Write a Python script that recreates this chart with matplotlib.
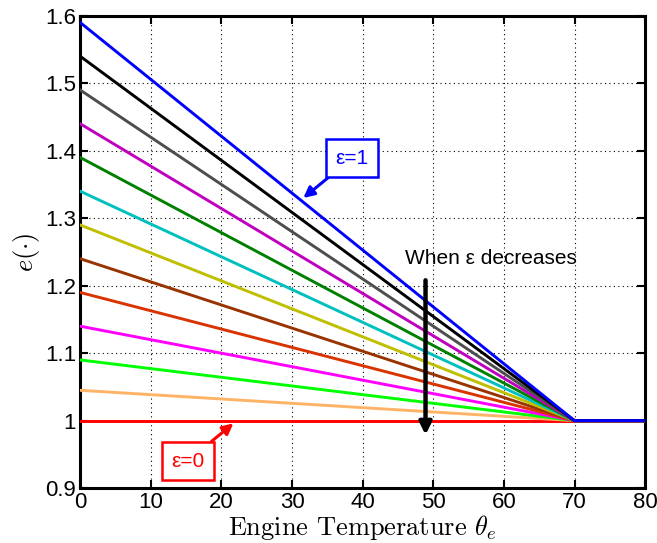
import matplotlib
matplotlib.use("Agg")
import matplotlib.pyplot as plt
import numpy as np

plt.rcParams['mathtext.fontset'] = 'cm'

# Data
theta_knots = [0, 70, 80]
e_at_zero = [1.59, 1.54, 1.49, 1.44, 1.39, 1.34, 1.29, 1.24, 1.19, 1.14, 1.09, 1.045, 1.00]
e_at_knee = 1.0
colors = [(0, 0, 1), (0, 0, 0), (0.3, 0.3, 0.3), (0.75, 0, 0.75), (0, 0.5, 0),
          (0, 0.75, 0.75), (0.75, 0.75, 0), (0.6, 0.2, 0), (0.85, 0.2, 0),
          (1, 0, 1), (0, 1, 0), (1, 0.7, 0.4), (1, 0, 0)]
xticks = [0, 10, 20, 30, 40, 50, 60, 70, 80]
yticks = [0.9, 1.0, 1.1, 1.2, 1.3, 1.4, 1.5, 1.6]
yticklabels = ['0.9', '1', '1.1', '1.2', '1.3', '1.4', '1.5', '1.6']

fig = plt.figure(figsize=(6.57, 5.43), dpi=100)
ax = fig.add_axes([0.122, 0.101, 0.860, 0.870])

for e0, c in reversed(list(zip(e_at_zero, colors))):
    ax.plot(theta_knots, [e0, e_at_knee, e_at_knee], color=c, lw=2.1, zorder=3)

ax.set_xlim(0, 80)
ax.set_ylim(0.9, 1.6)
ax.set_xticks(xticks)
ax.set_yticks(yticks)
ax.set_yticklabels(yticklabels)
ax.grid(True, color='black', linestyle=(0, (1, 3)), linewidth=0.8)
ax.tick_params(direction='in', length=6, width=1.5, labelsize=16, top=True, right=True, pad=3)
for lab in ax.get_xticklabels() + ax.get_yticklabels():
    lab.set_family('Liberation Sans')
for s in ax.spines.values():
    s.set_linewidth(2.2)

ax.set_xlabel(r'Engine Temperature $\theta_e$', fontsize=19, family='cmr10', labelpad=0)
ax.set_ylabel(r'$e(\cdot)$', fontsize=19, labelpad=2)

ax.annotate('ε=1', xy=(31.6, 1.330), xytext=(38.5, 1.389), color='blue',
            fontsize=15, family='Liberation Sans', ha='center', va='center',
            bbox=dict(boxstyle='square,pad=0.45', fc='white', ec='blue', lw=1.8),
            arrowprops=dict(arrowstyle='-|>', color='blue', lw=2.2, mutation_scale=16,
                            shrinkA=0, shrinkB=0), zorder=5)
ax.annotate('ε=0', xy=(21.7, 0.996), xytext=(15.2, 0.940), color='red',
            fontsize=15, family='Liberation Sans', ha='center', va='center',
            bbox=dict(boxstyle='square,pad=0.45', fc='white', ec='red', lw=1.8),
            arrowprops=dict(arrowstyle='-|>', color='red', lw=2.2, mutation_scale=16,
                            shrinkA=0, shrinkB=0), zorder=5)
ax.text(58.2, 1.241, 'When ε decreases', fontsize=15, family='Liberation Sans',
        ha='center', va='center', zorder=5)
ax.annotate('', xy=(48.9, 0.979), xytext=(48.9, 1.208),
            arrowprops=dict(arrowstyle='-|>', color='black', lw=3.2, mutation_scale=18,
                            shrinkA=0, shrinkB=0), zorder=5)

fig.savefig('out.png', dpi=100)
